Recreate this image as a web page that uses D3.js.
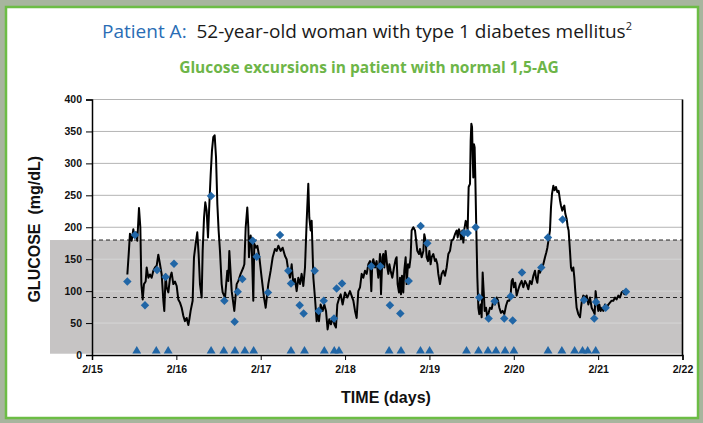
<!DOCTYPE html>
<html>
<head>
<meta charset="utf-8">
<script src="https://cdn.jsdelivr.net/npm/d3@7"></script>
<style>
  html, body { margin: 0; padding: 0; background: #fff; }
  svg { display: block; }
  .axis text { font-family: "Liberation Sans", Arial, sans-serif; font-weight: bold; font-size: 10.5px; fill: #111; }
  .axis path, .axis line { stroke: #000; }
</style>
</head>
<body>
<svg id="chart" width="703" height="423"></svg>
<script>
// Day ticks (days after 2/15)
const dayLabels = ['2/15', '2/16', '2/17', '2/18', '2/19', '2/20', '2/21', '2/22'];
const glucoseTicks = [0, 50, 100, 150, 200, 250, 300, 350, 400];
const targetRange = [90, 180];

// CGM trace: [days after 2/15, glucose mg/dL]
const cgmTrace = [
  [0.419,126],[0.435,158],[0.450,190],[0.470,179],[0.490,197],[0.502,184],[0.522,192],[0.537,179],
  [0.557,230],[0.573,200],[0.585,111],[0.601,87],[0.616,111],[0.636,115],[0.648,137],[0.668,121],
  [0.687,126],[0.707,121],[0.727,132],[0.747,137],[0.767,140],[0.786,157],[0.806,142],[0.826,126],
  [0.846,85],[0.857,69],[0.873,126],[0.885,106],[0.905,98],[0.925,121],[0.944,129],[0.964,111],
  [0.984,115],[1.004,108],[1.023,87],[1.043,82],[1.063,74],[1.083,61],[1.102,53],[1.122,58],
  [1.142,47],[1.154,56],[1.169,69],[1.193,85],[1.209,153],[1.229,174],[1.248,192],[1.264,158],
  [1.280,111],[1.300,90],[1.312,163],[1.328,215],[1.343,239],[1.359,226],[1.375,184],[1.391,236],
  [1.407,283],[1.422,320],[1.438,341],[1.454,344],[1.470,310],[1.486,236],[1.501,195],[1.517,163],
  [1.537,111],[1.549,98],[1.577,90],[1.604,132],[1.616,116],[1.628,163],[1.656,100],[1.687,69],
  [1.715,111],[1.735,116],[1.762,127],[1.794,137],[1.806,142],[1.822,200],[1.841,231],[1.853,200],
  [1.861,153],[1.881,187],[1.893,174],[1.912,85],[1.924,174],[1.944,168],[1.960,171],[1.984,153],
  [2.011,121],[2.039,90],[2.059,74],[2.090,111],[2.118,132],[2.142,153],[2.169,166],[2.189,163],
  [2.209,171],[2.236,163],[2.260,168],[2.288,155],[2.307,150],[2.327,132],[2.347,121],[2.367,142],
  [2.387,111],[2.406,119],[2.426,100],[2.446,121],[2.466,111],[2.485,127],[2.505,108],[2.525,137],
  [2.545,210],[2.564,268],[2.576,215],[2.592,195],[2.604,210],[2.624,121],[2.643,90],[2.663,53],
  [2.675,69],[2.691,53],[2.710,79],[2.734,69],[2.754,79],[2.774,69],[2.793,40],[2.813,56],
  [2.833,48],[2.853,58],[2.873,48],[2.892,43],[2.908,79],[2.932,90],[2.948,95],[2.971,79],
  [2.999,98],[3.027,90],[3.058,100],[3.098,85],[3.118,69],[3.137,58],[3.157,100],[3.177,106],
  [3.197,127],[3.216,121],[3.236,132],[3.256,127],[3.276,142],[3.295,147],[3.311,100],[3.323,145],
  [3.335,150],[3.355,137],[3.374,147],[3.394,121],[3.414,158],[3.426,95],[3.442,153],[3.453,158],
  [3.465,137],[3.481,163],[3.501,137],[3.513,127],[3.525,142],[3.540,132],[3.560,121],[3.580,137],
  [3.600,150],[3.611,153],[3.623,111],[3.639,98],[3.651,121],[3.663,95],[3.675,124],[3.690,98],
  [3.702,132],[3.718,153],[3.730,111],[3.746,142],[3.762,137],[3.777,153],[3.789,195],[3.809,200],
  [3.829,195],[3.841,181],[3.856,163],[3.876,158],[3.888,166],[3.908,153],[3.928,163],[3.939,189],
  [3.955,179],[3.967,153],[3.983,147],[3.999,163],[4.014,142],[4.026,153],[4.046,158],[4.066,147],
  [4.078,150],[4.094,142],[4.105,127],[4.125,111],[4.145,127],[4.165,132],[4.184,124],[4.204,137],
  [4.224,158],[4.244,163],[4.263,179],[4.283,181],[4.303,189],[4.323,195],[4.335,184],[4.350,197],
  [4.362,192],[4.374,181],[4.390,195],[4.402,176],[4.414,197],[4.430,210],[4.441,205],[4.453,195],
  [4.465,263],[4.481,268],[4.489,336],[4.497,362],[4.505,357],[4.513,310],[4.520,278],[4.528,330],
  [4.536,325],[4.544,278],[4.556,195],[4.568,121],[4.580,74],[4.591,64],[4.607,79],[4.619,59],
  [4.631,129],[4.643,100],[4.655,69],[4.671,74],[4.686,59],[4.702,66],[4.718,74],[4.738,72],
  [4.757,85],[4.777,79],[4.797,90],[4.813,85],[4.829,74],[4.848,66],[4.868,69],[4.888,64],
  [4.908,77],[4.927,85],[4.947,85],[4.963,95],[4.975,116],[4.987,119],[5.002,106],[5.018,113],
  [5.034,93],[5.054,103],[5.074,111],[5.093,116],[5.113,106],[5.133,116],[5.153,111],[5.172,103],
  [5.192,116],[5.212,111],[5.232,124],[5.251,132],[5.263,121],[5.279,113],[5.295,132],[5.311,129],
  [5.330,137],[5.350,142],[5.370,153],[5.386,161],[5.398,168],[5.413,181],[5.429,195],[5.441,231],
  [5.453,252],[5.469,265],[5.484,258],[5.500,263],[5.516,255],[5.532,257],[5.548,242],[5.559,234],
  [5.575,226],[5.587,231],[5.599,234],[5.611,221],[5.627,213],[5.638,202],[5.650,195],[5.666,163],
  [5.678,137],[5.690,132],[5.706,137],[5.718,121],[5.729,100],[5.745,74],[5.765,64],[5.785,59],
  [5.797,74],[5.808,85],[5.824,93],[5.848,90],[5.864,93],[5.884,79],[5.903,90],[5.923,74],
  [5.943,69],[5.959,64],[5.970,100],[5.982,85],[6.002,69],[6.014,79],[6.030,69],[6.046,74],
  [6.061,69],[6.081,79],[6.101,74],[6.121,79],[6.140,82],[6.160,85],[6.180,85],[6.200,90],
  [6.219,87],[6.239,93],[6.259,90],[6.279,98],[6.298,100],[6.310,95],[6.330,99]
];

// Fingerstick readings: [days after 2/15, glucose mg/dL]
const fingerSticks = [
  [0.419,115],[0.510,188],[0.628,78],[0.771,133],[0.873,122],[0.972,143],[1.411,249],[1.569,85],
  [1.691,52],[1.727,99],[1.782,119],[1.905,179],[1.952,154],[2.086,98],[2.229,188],[2.327,132],
  [2.359,112],[2.462,78],[2.509,65],[2.640,132],[2.687,69],[2.747,85],[2.869,57],[2.900,104],
  [2.964,112],[3.311,139],[3.418,139],[3.532,78],[3.655,65],[3.754,116],[3.896,202],[3.975,175],
  [4.410,191],[4.454,191],[4.548,200],[4.591,90],[4.702,57],[4.773,84],[4.887,57],[4.963,92],
  [4.987,54],[5.097,129],[5.326,137],[5.405,184],[5.579,212],[5.832,86],[5.954,57],[5.975,83],
  [6.089,74],[6.330,99]
];

// Event markers along the time axis (days after 2/15)
const eventDays = [
  0.531, 0.762, 0.903, 1.412, 1.562, 1.694, 1.812, 1.916, 2.359, 2.519, 2.754, 2.872, 2.928,
  3.522, 3.663, 3.894, 4.002, 4.440, 4.582, 4.694, 4.789, 4.897, 5.001, 5.406, 5.570, 5.721,
  5.815, 5.876, 5.971
];

const svg = d3.select('#chart');
const W = 703, H = 423;
const blue = '#2166a6';

// Frame
svg.append('rect').attr('width', W).attr('height', H).attr('fill', '#a7b59e');
svg.append('rect')
  .attr('x', 6).attr('y', 7).attr('width', 692).attr('height', 411)
  .attr('fill', '#fff').attr('stroke', '#6cbd45').attr('stroke-width', 2.5);

// Titles
const title = svg.append('text')
  .attr('x', 367).attr('y', 38)
  .attr('text-anchor', 'middle')
  .attr('font-family', '"Open Sans", sans-serif')
  .attr('font-size', 19);
title.append('tspan').attr('fill', '#2a6db5').text('Patient A:\u00a0\u00a0');
title.append('tspan').attr('fill', '#1a1a1a').text('52-year-old woman with type 1 diabetes mellitus');
title.append('tspan').attr('fill', '#1a1a1a').attr('font-size', 11).attr('dy', -8).text('2');

svg.append('text')
  .attr('x', 369).attr('y', 73)
  .attr('text-anchor', 'middle')
  .attr('font-family', '"Open Sans", sans-serif')
  .attr('font-weight', 'bold')
  .attr('font-size', 15.5)
  .attr('fill', '#6db548')
  .text('Glucose excursions in patient with normal 1,5-AG');

// Scales
const x = d3.scaleLinear().domain([0, 7]).range([92, 682.5]);
const y = d3.scaleLinear().domain([0, 400]).range([355, 99.5]);

// Target band (gray box)
svg.append('rect')
  .attr('x', 50).attr('y', y(targetRange[1]))
  .attr('width', x(7) - 50).attr('height', y(2) - y(targetRange[1]))
  .attr('fill', '#c6c4c4');

// Gridlines
svg.append('g').selectAll('line')
  .data(glucoseTicks.filter(v => v > 0))
  .join('line')
  .attr('x1', x(0)).attr('x2', x(7))
  .attr('y1', d => y(d)).attr('y2', d => y(d))
  .attr('stroke', d => d < targetRange[1] ? '#d6d6d6' : '#b4b4b4')
  .attr('stroke-width', 1);

// Dashed target lines
svg.append('g').selectAll('line')
  .data(targetRange)
  .join('line')
  .attr('x1', x(0)).attr('x2', x(7))
  .attr('y1', d => y(d)).attr('y2', d => y(d))
  .attr('stroke', '#222')
  .attr('stroke-dasharray', '4,3')
  .attr('stroke-width', 1);

// Right border
svg.append('line')
  .attr('x1', x(7)).attr('x2', x(7))
  .attr('y1', y(400)).attr('y2', y(0))
  .attr('stroke', '#000').attr('stroke-width', 1.6);

// Axes
const yAxis = svg.append('g')
  .attr('class', 'axis')
  .attr('transform', `translate(${x(0)},0)`)
  .call(d3.axisLeft(y).tickValues(glucoseTicks).tickSize(6).tickPadding(4));
yAxis.select('.domain').attr('stroke-width', 1.5);

const xAxis = svg.append('g')
  .attr('class', 'axis')
  .attr('transform', `translate(0,${y(0)})`)
  .call(d3.axisBottom(x).tickValues(d3.range(8)).tickFormat(i => dayLabels[i]).tickSize(5).tickPadding(6));
xAxis.select('.domain').attr('stroke-width', 1.5);
xAxis.selectAll('text').attr('font-size', 11);

// Axis titles
svg.append('text')
  .attr('transform', `translate(40,${(y(0) + y(400)) / 2 + 2}) rotate(-90)`)
  .attr('text-anchor', 'middle')
  .attr('font-family', '"Liberation Sans", Arial, sans-serif')
  .attr('font-weight', 'bold')
  .attr('font-size', 16)
  .attr('fill', '#111')
  .text('GLUCOSE\u00a0\u00a0(mg/dL)');

svg.append('text')
  .attr('x', 386).attr('y', 403)
  .attr('text-anchor', 'middle')
  .attr('font-family', '"Liberation Sans", Arial, sans-serif')
  .attr('font-weight', 'bold')
  .attr('font-size', 16)
  .attr('fill', '#111')
  .text('TIME (days)');

// CGM line
const line = d3.line().x(d => x(d[0])).y(d => y(d[1]));
svg.append('path')
  .datum(cgmTrace)
  .attr('d', line)
  .attr('fill', 'none')
  .attr('stroke', '#000')
  .attr('stroke-width', 2)
  .attr('stroke-linejoin', 'round');

// Fingerstick diamonds
svg.append('g').selectAll('path')
  .data(fingerSticks)
  .join('path')
  .attr('d', d3.symbol(d3.symbolSquare, 36))
  .attr('transform', d => `translate(${x(d[0])},${y(d[1])}) rotate(45)`)
  .attr('fill', blue);

// Event triangles
svg.append('g').selectAll('path')
  .data(eventDays)
  .join('path')
  .attr('d', d3.symbol(d3.symbolTriangle, 34))
  .attr('transform', d => `translate(${x(d)},${y(0) - 4})`)
  .attr('fill', blue);
</script>
</body>
</html>
